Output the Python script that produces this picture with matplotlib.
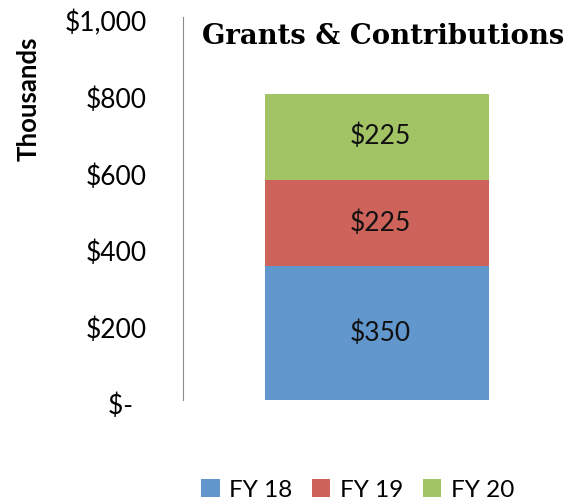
import matplotlib
matplotlib.use('Agg')
import matplotlib.pyplot as plt
from matplotlib.transforms import ScaledTranslation

categories = ['']
series_labels = ['FY 18', 'FY 19', 'FY 20']
values = [[350], [225], [225]]
colors = ['#6197CD', '#CD635A', '#A2C465']
ytick_values = [0, 200, 400, 600, 800, 1000]
ytick_labels = ['$-  ', '$200', '$400', '$600', '$800', '$1,000']

fig = plt.figure(figsize=(5.82, 5.04), dpi=100)
ax = fig.add_axes([0.3144, 0.2063, 0.667, 0.760])

bottom = [0] * len(categories)
for vals, lab, col in zip(values, series_labels, colors):
    bars = ax.bar(categories, vals, width=0.577, bottom=bottom, color=col, label=lab)
    for rect, v in zip(bars, vals):
        ax.text(rect.get_x() + rect.get_width() / 2 + 0.008, rect.get_y() + v / 2, f'${v}',
                ha='center', va='center', fontsize=19, family='Lato', color='#111111')
    bottom = [b + v for b, v in zip(bottom, vals)]

ax.set_xlim(-0.5, 0.5)
ax.set_ylim(0, 1000)
ax.set_yticks(ytick_values)
ax.set_yticklabels(ytick_labels, fontsize=19, family='Lato')
ax.tick_params(axis='y', length=0, pad=26)
# nudge tick labels down a few pixels like the original
offset = ScaledTranslation(0, -3 / 72, fig.dpi_scale_trans)
for t in ax.get_yticklabels():
    t.set_transform(t.get_transform() + offset)
ax.set_xticks([])
for s in ['top', 'right', 'bottom']:
    ax.spines[s].set_visible(False)
ax.spines['left'].set_color('#8c8c8c')

fig.text(0.05, 0.805, 'Thousands', rotation=90, ha='center', va='center',
         fontsize=18.5, fontweight='bold', family='Lato')
fig.text(0.659, 0.927, 'Grants & Contributions', ha='center', va='center',
         fontsize=19.8, fontweight='bold', family='DejaVu Serif')

ax.legend(loc='center', bbox_to_anchor=(0.45, -0.235), ncol=3, frameon=False,
          prop={'family': 'Lato', 'size': 17.5}, handlelength=0.75, handleheight=0.75,
          handletextpad=0.4, columnspacing=0.8)

fig.savefig('out.png', dpi=100)
